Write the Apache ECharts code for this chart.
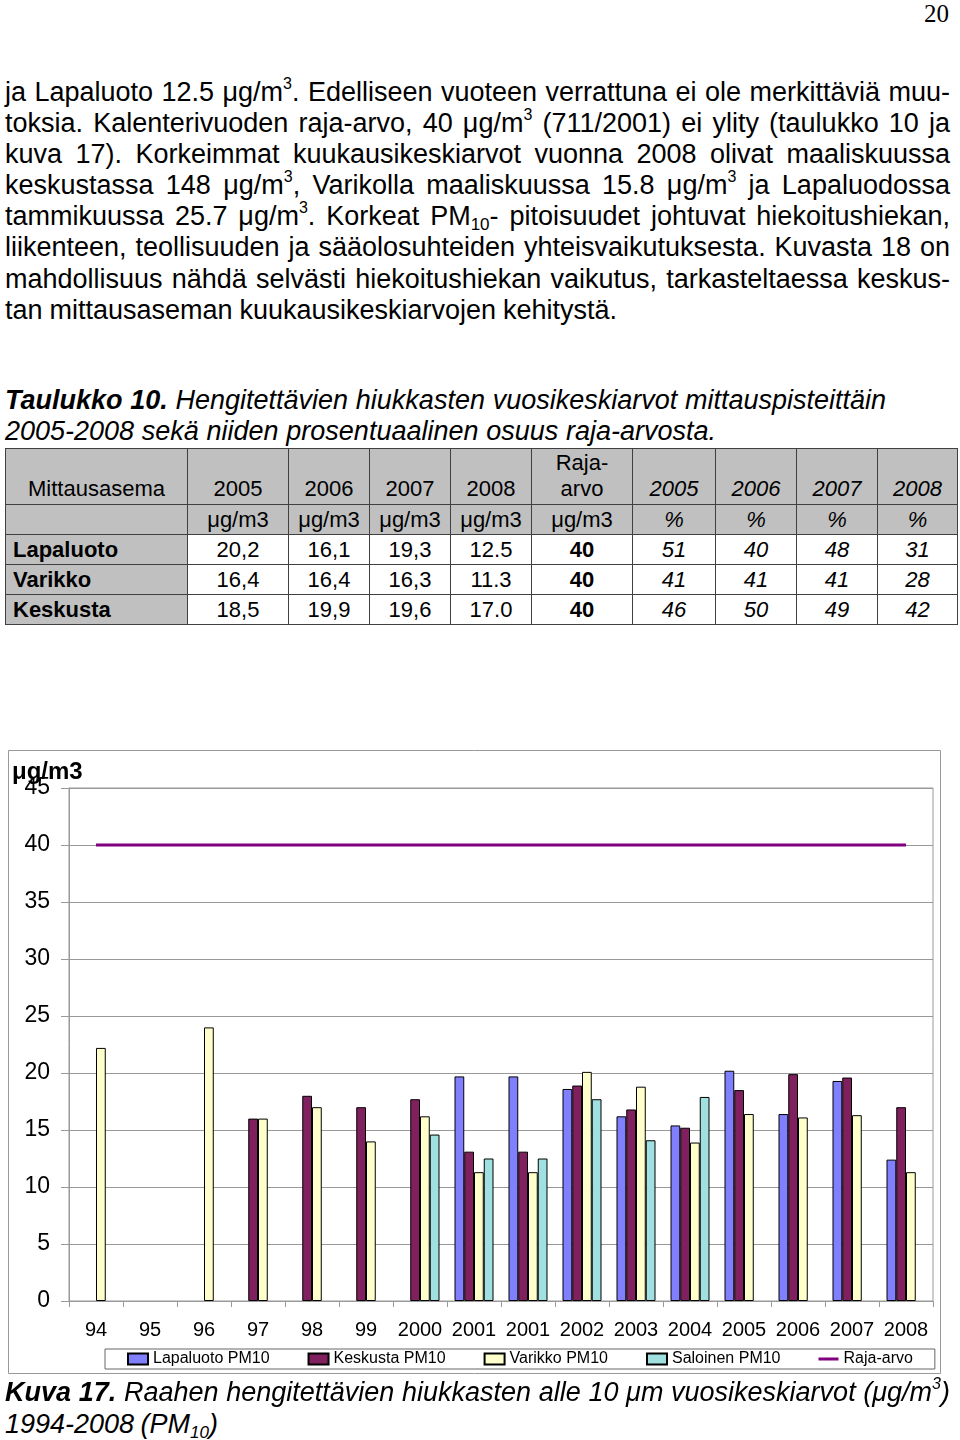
<!DOCTYPE html>
<html><head><meta charset="utf-8">
<script src="https://cdn.jsdelivr.net/npm/echarts@6/dist/echarts.min.js"></script>
<style>
body{margin:0;width:960px;height:1440px;position:relative;background:#fff;font-family:"Liberation Sans",Arial,sans-serif;color:#000;overflow:hidden;}
.ln{position:absolute;left:5px;white-space:nowrap;font-size:27px;line-height:31px;height:31px;}
.ln sup{font-size:16px;line-height:0;vertical-align:0;position:relative;top:-12px;}
.ln sub{font-size:17px;line-height:0;vertical-align:0;position:relative;top:5px;}
.it{font-style:italic;}
#pg{position:absolute;left:924px;top:0px;font-family:"Liberation Serif","Times New Roman",serif;font-size:25px;line-height:28px;}
#t{position:absolute;left:5px;top:448px;border-collapse:collapse;table-layout:fixed;width:952px;font-size:22px;}
#t td{border:1px solid #404040;padding:0;text-align:center;vertical-align:middle;line-height:26px;}
#t tr.h1 td{height:53px;vertical-align:bottom;padding-bottom:2px;background:#c0c0c0;}
#t tr.h2 td{height:29px;background:#c0c0c0;}
#t tr.d td{height:29px;background:#fff;}
#t tr.d td.n{background:#c0c0c0;text-align:left;padding-left:7px;font-weight:bold;}
#t td.i{font-style:italic;}
#t td.b{font-weight:bold;}
#c{position:absolute;left:0;top:740px;width:960px;height:640px;}
</style></head>
<body>
<div id="pg">20</div>

<div class="ln j" data-w="945" style="top:77px"><span>ja Lapaluoto 12.5 μg/m<sup>3</sup>. Edelliseen vuoteen verrattuna ei ole merkittäviä muu-</span></div>
<div class="ln j" data-w="945" style="top:108px"><span>toksia. Kalenterivuoden raja-arvo, 40 μg/m<sup>3</sup> (711/2001) ei ylity (taulukko 10 ja</span></div>
<div class="ln j" data-w="945" style="top:139px"><span>kuva 17). Korkeimmat kuukausikeskiarvot vuonna 2008 olivat maaliskuussa</span></div>
<div class="ln j" data-w="945" style="top:170px"><span>keskustassa 148 μg/m<sup>3</sup>, Varikolla maaliskuussa 15.8 μg/m<sup>3</sup> ja Lapaluodossa</span></div>
<div class="ln j" data-w="945" style="top:201px"><span>tammikuussa 25.7 μg/m<sup>3</sup>. Korkeat PM<sub>10</sub>- pitoisuudet johtuvat hiekoitushiekan,</span></div>
<div class="ln j" data-w="945" style="top:232px"><span>liikenteen, teollisuuden ja sääolosuhteiden yhteisvaikutuksesta. Kuvasta 18 on</span></div>
<div class="ln j" data-w="945" style="top:264px"><span>mahdollisuus nähdä selvästi hiekoitushiekan vaikutus, tarkasteltaessa keskus-</span></div>
<div class="ln j" data-w="612" style="top:295px"><span>tan mittausaseman kuukausikeskiarvojen kehitystä.</span></div>

<div class="ln j it" data-w="881" style="top:385px"><span><b>Taulukko 10.</b> Hengitettävien hiukkasten vuosikeskiarvot mittauspisteittäin</span></div>
<div class="ln j it" data-w="711" style="top:416px"><span>2005-2008 sekä niiden prosentuaalinen osuus raja-arvosta.</span></div>

<table id="t">
<colgroup><col style="width:182px"><col style="width:101px"><col style="width:81px"><col style="width:81px"><col style="width:81px"><col style="width:101px"><col style="width:83px"><col style="width:81px"><col style="width:81px"><col style="width:80px"></colgroup>
<tbody id="tb"></tbody>
</table>

<div id="c"></div>

<div class="ln j it" data-w="945" style="top:1377px"><span><b>Kuva 17.</b> Raahen hengitettävien hiukkasten alle 10 μm vuosikeskiarvot (μg/m<sup>3</sup>)</span></div>
<div class="ln j it" data-w="213" style="top:1409px"><span>1994-2008 (PM<sub>10</sub>)</span></div>

<script>
// ---- table data ----
const tableYears = ['2005','2006','2007','2008'];
const tableStations = ['Lapaluoto','Varikko','Keskusta'];
const tableConc = [['20,2','16,1','19,3','12.5'],['16,4','16,4','16,3','11.3'],['18,5','19,9','19,6','17.0']];
const tableLimit = ['40','40','40'];
const tablePct = [['51','40','48','31'],['41','41','41','28'],['46','50','49','42']];

// ---- chart data ----
const years = ['94','95','96','97','98','99','2000','2001','2001','2002','2003','2004','2005','2006','2007','2008'];
const lapaluoto = [null,null,null,null,null,null,null,19.7,19.7,18.6,16.2,15.4,20.2,16.4,19.3,12.4];
const keskusta  = [null,null,null,16.0,18.0,17.0,17.7,13.1,13.1,18.9,16.8,15.2,18.5,19.9,19.6,17.0];
const varikko   = [22.2,null,24.0,16.0,17.0,14.0,16.2,11.3,11.3,20.1,18.8,13.9,16.4,16.1,16.3,11.3];
const saloinen  = [null,null,null,null,null,null,14.6,12.5,12.5,17.7,14.1,17.9,null,null,null,null];
const rajaArvo  = [40,40,40,40,40,40,40,40,40,40,40,40,40,40,40,40];
const yTicks = {min:0, max:45, interval:5};

// build table
(function(){
  const tb = document.getElementById('tb');
  let h = '<tr class="h1"><td>Mittausasema</td>';
  tableYears.forEach(y=>h+='<td>'+y+'</td>');
  h += '<td>Raja-<br>arvo</td>';
  tableYears.forEach(y=>h+='<td class="i">'+y+'</td>');
  h += '</tr><tr class="h2"><td></td>';
  for(let i=0;i<5;i++) h+='<td>μg/m3</td>';
  for(let i=0;i<4;i++) h+='<td class="i">%</td>';
  h += '</tr>';
  tableStations.forEach((s,r)=>{
    h += '<tr class="d"><td class="n">'+s+'</td>';
    tableConc[r].forEach(v=>h+='<td>'+v+'</td>');
    h += '<td class="b">'+tableLimit[r]+'</td>';
    tablePct[r].forEach(v=>h+='<td class="i">'+v+'</td>');
    h += '</tr>';
  });
  tb.innerHTML = h;
})();

// justify lines
document.querySelectorAll('.j').forEach(el=>{
  const target = +el.dataset.w;
  const sp = el.querySelector('span');
  const w = sp.getBoundingClientRect().width;
  const n = (sp.textContent.match(/ /g)||[]).length;
  if(n) sp.style.wordSpacing = ((target - w)/n) + 'px';
});

const FF = '"Liberation Sans", Arial, sans-serif';
const chart = echarts.init(document.getElementById('c'), null, {renderer:'canvas'});
const barStyle = c => ({color:c, borderColor:'#000', borderWidth:1});
const lineIcon = 'path://M0,0L20,0L20,0.01L0,0.01Z M0,4L20,4L20,7L0,7Z M0,11L20,11L20,11.01L0,11.01Z';
chart.setOption({
  animation:false,
  textStyle:{fontFamily:FF},
  title:{text:'μg/m3', left:12, top:20, padding:0, textStyle:{fontSize:24, fontWeight:'bold', color:'#000', fontFamily:FF}},
  graphic:[{type:'rect', silent:true, z:-10, shape:{x:8.5, y:10.5, width:932, height:623}, style:{fill:'none', stroke:'#999', lineWidth:1}}],
  grid:{left:69, right:27, top:48, bottom:79, show:true, borderColor:'#999', borderWidth:1, outerBoundsMode:'none', containLabel:false},
  legend:{
    left:105, top:609, padding:[2,22,2,22], itemGap:38, itemWidth:20, itemHeight:11,
    borderColor:'#666', borderWidth:1, backgroundColor:'#fff',
    textStyle:{fontSize:16, color:'#000', fontFamily:FF, padding:[0,0,0,0]},
    data:[{name:'Lapaluoto PM10', icon:'rect'},{name:'Keskusta PM10', icon:'rect'},{name:'Varikko PM10', icon:'rect'},{name:'Saloinen PM10', icon:'rect'},
          {name:'Raja-arvo', icon:lineIcon, itemStyle:{color:'#800080', borderWidth:0}}]
  },
  xAxis:{
    type:'category', data:years, boundaryGap:true,
    axisLine:{lineStyle:{color:'#999'}},
    axisTick:{show:true, length:6, lineStyle:{color:'#999'}},
    axisLabel:{interval:0, fontSize:20, color:'#000', margin:19, fontFamily:FF},
    splitLine:{show:false}
  },
  yAxis:{
    type:'value', min:yTicks.min, max:yTicks.max, interval:yTicks.interval,
    axisLine:{show:true, lineStyle:{color:'#999'}},
    axisTick:{show:true, length:8, lineStyle:{color:'#999'}},
    axisLabel:{fontSize:23, color:'#000', margin:19, fontFamily:FF},
    splitLine:{show:true, lineStyle:{color:'#999', width:1}}
  },
  series:[
    {name:'Lapaluoto PM10', type:'bar', data:lapaluoto, barWidth:9.75, barGap:'0%', itemStyle:barStyle('#8080FF')},
    {name:'Keskusta PM10', type:'bar', data:keskusta, barWidth:9.75, barGap:'0%', itemStyle:barStyle('#80205E')},
    {name:'Varikko PM10', type:'bar', data:varikko, barWidth:9.75, barGap:'0%', itemStyle:barStyle('#FFFFCC')},
    {name:'Saloinen PM10', type:'bar', data:saloinen, barWidth:9.75, barGap:'0%', itemStyle:barStyle('#A0E0E0')},
    {name:'Raja-arvo', type:'line', data:rajaArvo, symbol:'none', z:5, lineStyle:{color:'#800080', width:3}, itemStyle:{color:'#800080'}}
  ]
});
</script>
</body></html>
